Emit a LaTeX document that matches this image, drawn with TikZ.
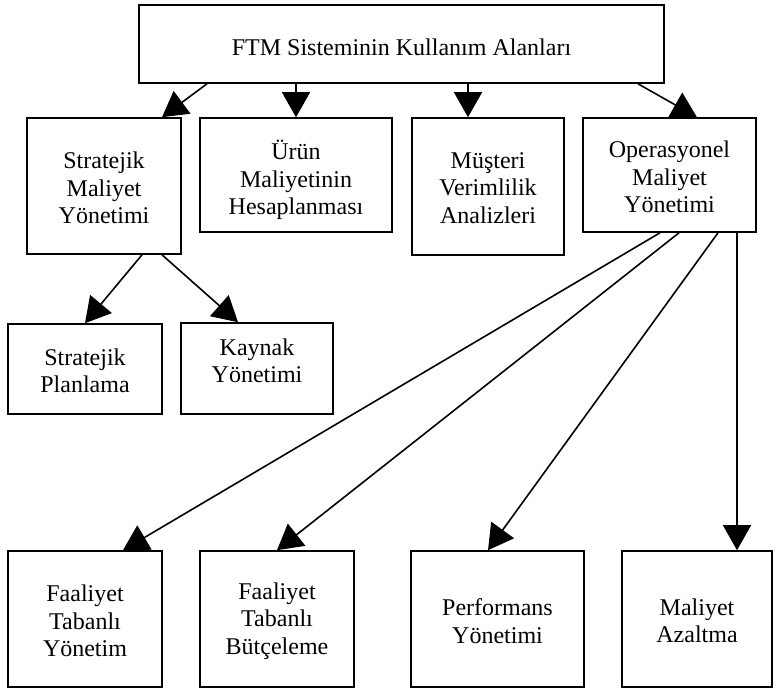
\documentclass[tikz,border=0pt]{standalone}
\usepackage{fontspec}
\setmainfont{Liberation Serif}
\usetikzlibrary{arrows.meta,calc}
\begin{document}
\begin{tikzpicture}[x=1pt,y=-1pt,
  box/.style={draw=black,line width=1.6pt,inner sep=0pt,rectangle},
  txt/.style={align=center,inner sep=0pt,font=\fontsize{24}{27.5}\selectfont},
  arr/.style={line width=1.6pt,-{Triangle[length=25pt,width=28pt]}}]
\useasboundingbox (0,0) rectangle (776,691);
% boxes
\node[box,minimum width=525pt,minimum height=78pt] (top) at (401.5,44) {};
\node[txt] (toptxt) at (401.5,47) {FTM Sisteminin Kullanım Alanları};
\node[box,minimum width=154pt,minimum height=136pt] (strat) at (104,186) {};
\node[txt] (strattxt) at (104,188) {Stratejik\\Maliyet\\Yönetimi};
\node[box,minimum width=192pt,minimum height=114pt] (urun) at (296,175) {};
\node[txt] (uruntxt) at (296,180) {Ürün\\Maliyetinin\\Hesaplanması};
\node[box,minimum width=152pt,minimum height=137pt] (must) at (488,186.5) {};
\node[txt] (musttxt) at (488,188) {Müşteri\\Verimlilik\\Analizleri};
\node[box,minimum width=173pt,minimum height=114pt] (oper) at (669.5,175) {};
\node[txt] (opertxt) at (669.5,177) {Operasyonel\\Maliyet\\Yönetimi};
\node[box,minimum width=154pt,minimum height=90pt] (plan) at (85,369) {};
\node[txt] (plantxt) at (85,371) {Stratejik\\Planlama};
\node[box,minimum width=152pt,minimum height=91pt] (kay) at (257,368.5) {};
\node[txt] (kaytxt) at (257,361) {Kaynak\\Yönetimi};
\node[box,minimum width=154pt,minimum height=136pt] (fty) at (85,619) {};
\node[txt] (ftytxt) at (85,621) {Faaliyet\\Tabanlı\\Yönetim};
\node[box,minimum width=154pt,minimum height=136pt] (ftb) at (277,619) {};
\node[txt] (ftbtxt) at (277,621) {Faaliyet\\Tabanlı\\Bütçeleme};
\node[box,minimum width=173pt,minimum height=136pt] (perf) at (497.5,619) {};
\node[txt] (perftxt) at (497.5,621) {Performans\\Yönetimi};
\node[box,minimum width=150pt,minimum height=136pt] (maz) at (697,619) {};
\node[txt] (maztxt) at (697,621) {Maliyet\\Azaltma};
% connectors
\draw[arr] ([xshift=-194.5pt]top.south) -- ([xshift=58pt]strat.north);
\draw[arr] (top.south -| urun.north) -- (urun.north);
\draw[arr] ([xshift=-20pt]top.south -| must.north) -- ([xshift=-20pt]must.north);
\draw[arr] ([xshift=236.5pt]top.south) -- ([xshift=27.5pt]oper.north);
\draw[arr] ([xshift=38pt]strat.south) -- (plan.north);
\draw[arr] ([xshift=58pt]strat.south) -- ([xshift=-19pt]kay.north);
\draw[arr] ([xshift=-9.5pt]oper.south) -- ([xshift=38pt]fty.north);
\draw[arr] ([xshift=9.5pt]oper.south) -- (ftb.north);
\draw[arr] ([xshift=48.5pt]oper.south) -- ([xshift=-9.5pt]perf.north);
\draw[arr] ([xshift=67.5pt]oper.south) -- ([xshift=40pt]maz.north);
\end{tikzpicture}
\end{document}
